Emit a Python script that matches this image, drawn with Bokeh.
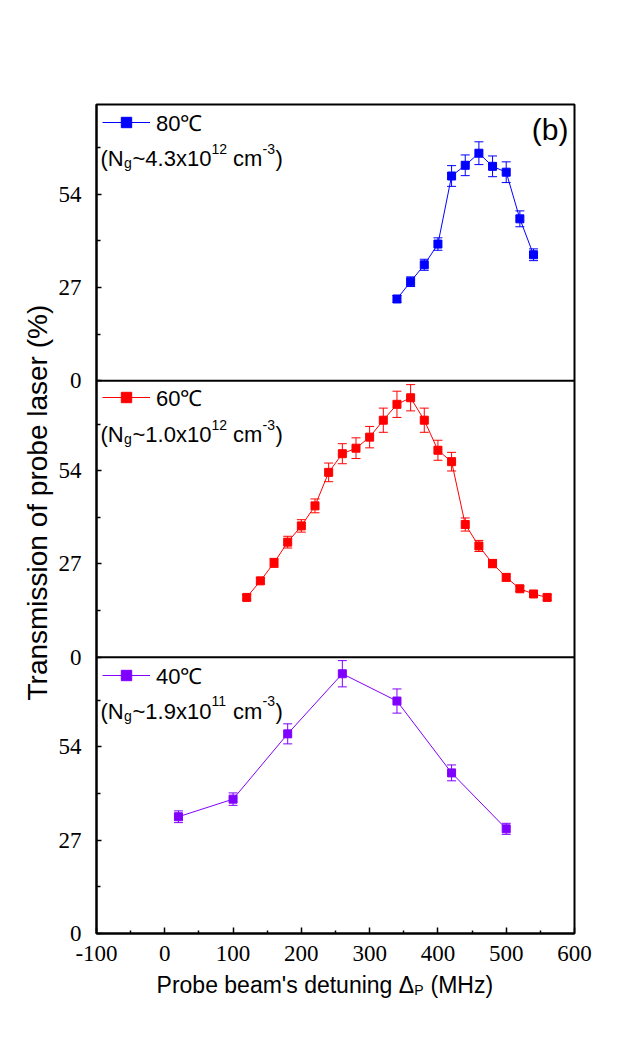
import math
from bokeh.plotting import figure
from bokeh.layouts import column
from bokeh.models import (Range1d, FixedTicker, Whisker, TeeHead, ColumnDataSource,
                          Span, Label, Legend, LegendItem, Title)
from bokeh.embed import file_html
from bokeh.resources import INLINE

# ---------------- data ----------------
det_80 = [340, 360, 380, 400, 420, 440, 460, 480, 500, 520, 540]
T_80 = [23.7, 28.7, 33.6, 39.6, 59.3, 62.4, 65.9, 62.1, 60.4, 46.9, 36.5]
err_80 = [1.0, 1.4, 1.6, 1.8, 3.0, 3.0, 3.3, 3.0, 3.0, 2.3, 1.7]

det_60 = [120, 140, 160, 180, 200, 220, 240, 260, 280, 300, 320, 340,
          360, 380, 400, 420, 440, 460, 480, 500, 520, 540, 560]
T_60 = [17.3, 22.1, 27.3, 33.3, 38.0, 43.8, 53.5, 58.9, 60.5, 63.7, 68.6, 73.2,
        75.1, 68.6, 59.9, 56.6, 38.4, 32.2, 27.1, 23.1, 19.8, 18.3, 17.3]
err_60 = [0.8, 0.9, 1.3, 1.7, 1.8, 2.0, 2.7, 2.9, 3.0, 3.1, 3.5, 3.8,
          3.8, 3.5, 2.9, 2.7, 1.9, 1.6, 1.2, 1.0, 0.8, 0.8, 0.8]

det_40 = [20, 100, 180, 260, 340, 420, 500]
T_40 = [33.8, 38.9, 57.8, 75.2, 67.3, 46.5, 30.3]
err_40 = [1.7, 1.8, 2.9, 3.8, 3.5, 2.3, 1.6]

temp_labels = ["80℃", "60℃", "40℃"]
dens_mantissa = ["4.3", "1.0", "1.9"]
dens_exponent = ["12", "12", "11"]
colors = ["#0000FF", "#FF0000", "#8000FF"]

x_ticks = [-100, 0, 100, 200, 300, 400, 500, 600]
x_minor = [-50, 50, 150, 250, 350, 450, 550]
panel_ticks = [0, 27, 54]
panel_minor = [13.5, 40.5, 67.5]
PANEL = 80  # height of each panel in % units

W = 614
# ---------------- main figure ----------------
p = figure(width=W, height=973, x_range=Range1d(-100, 600), y_range=Range1d(0, 3 * PANEL),
           output_backend="svg", toolbar_location=None,
           min_border_left=96, min_border_right=40, min_border_top=104, min_border_bottom=40)
p.extra_y_ranges = {
    "r80": Range1d(-2 * PANEL, PANEL),
    "r60": Range1d(-PANEL, 2 * PANEL),
}
p.grid.visible = False
p.outline_line_color = "black"
p.outline_line_width = 2
p.outline_line_alpha = 1
p.background_fill_color = "white"
p.border_fill_color = "white"

# y axis: three stacked panels sharing one axis line
yt, ym, over = [], [], {}
for k in range(3):
    for t in panel_ticks:
        yt.append(k * PANEL + t)
        over[k * PANEL + t] = str(t)
    for t in panel_minor:
        ym.append(k * PANEL + t)
yax = p.yaxis[0]
yax.ticker = FixedTicker(ticks=yt, minor_ticks=ym)
yax.major_label_overrides = over
yax.major_tick_in = 5
yax.major_tick_out = 0
yax.minor_tick_in = 4
yax.minor_tick_out = 0
yax.axis_line_width = 2
yax.major_tick_line_width = 1.5
yax.minor_tick_line_width = 1.5
yax.major_label_text_font = "Liberation Serif"
yax.major_label_text_font_size = "23px"
yax.major_label_text_color = "black"
yax.major_label_standoff = 15

xax = p.xaxis[0]
xax.ticker = FixedTicker(ticks=x_ticks, minor_ticks=x_minor)
xax.major_label_overrides = {t: str(t) for t in x_ticks}
xax.major_tick_in = 6
xax.major_tick_out = 0
xax.minor_tick_in = 3
xax.minor_tick_out = 0
xax.axis_line_width = 2
xax.major_tick_line_width = 1.5
xax.minor_tick_line_width = 1.5
xax.major_label_text_font = "Liberation Serif"
xax.major_label_text_font_size = "23px"
xax.major_label_text_color = "black"
xax.major_label_standoff = 12

# y title
p.add_layout(Title(text="Transmission of probe laser (%)", align="left", offset=233,
                   text_font="Liberation Sans", text_font_size="28px",
                   text_font_style="normal", text_color="black", standoff=6), "left")

# panel separators
for loc in (PANEL, 2 * PANEL):
    p.add_layout(Span(location=loc, dimension="width", line_color="black", line_width=2))

series = [
    (det_80, T_80, err_80, "r80"),
    (det_60, T_60, err_60, "r60"),
    (det_40, T_40, err_40, "default"),
]

legend_y = [796, 521, 243]
for i, (xs, ys, es, rname) in enumerate(series):
    c = colors[i]
    src = ColumnDataSource(dict(x=xs, y=ys,
                                lower=[v - e for v, e in zip(ys, es)],
                                upper=[v + e for v, e in zip(ys, es)]))
    w = Whisker(source=src, base="x", lower="lower", upper="upper", dimension="height",
                line_color=c, line_width=1, y_range_name=rname,
                upper_head=TeeHead(size=9, line_color=c, line_width=1),
                lower_head=TeeHead(size=9, line_color=c, line_width=1))
    p.add_layout(w)
    ln = p.line("x", "y", source=src, line_color=c, line_width=1, y_range_name=rname)
    sc = p.scatter("x", "y", source=src, marker="square", size=8, fill_color=c,
                   line_color=c, y_range_name=rname)
    leg = Legend(items=[LegendItem(label=temp_labels[i], renderers=[ln, sc])],
                 location=(6, legend_y[i]), padding=0, margin=0, spacing=0,
                 glyph_width=48, glyph_height=26, label_height=26, label_standoff=6,
                 label_text_font="Liberation Sans", label_text_font_size="22px",
                 label_text_color="black", border_line_alpha=0, background_fill_alpha=0)
    p.add_layout(leg)


def add_text(fig, text, x, x_off, y, y_off, size, font="Liberation Sans", align="left", angle=0.0):
    fig.add_layout(Label(x=x, y=y, x_offset=x_off, y_offset=y_off, text=text,
                         text_font=font, text_font_size=size, text_color="black",
                         text_align=align, text_baseline="alphabetic", angle=angle))


# density annotations: (N_g~a x10^b cm^-3)
for i in range(3):
    top = (3 - i) * PANEL
    base = -54
    add_text(p, "(N", -100, 4, top, base, "22px")
    add_text(p, "g", -100, 27.5, top, base - 4.5, "14px")
    add_text(p, "~" + dens_mantissa[i] + "x10", -100, 36, top, base, "22px")
    add_text(p, dens_exponent[i], -100, 115, top, base + 10, "14px")
    add_text(p, "cm", -100, 136.6, top, base, "22px")
    add_text(p, "-3", -100, 166, top, base + 10, "14px")
    add_text(p, ")", -100, 179, top, base, "22px")

# panel tag
add_text(p, "(b)", 600, -6, 3 * PANEL, -25, "30px", align="right")

# ---------------- x title strip ----------------
s = figure(width=W, height=50, x_range=Range1d(0, W), y_range=Range1d(0, 50),
           output_backend="svg", toolbar_location=None, min_border=0,
           x_axis_type=None, y_axis_type=None)
s.grid.visible = False
s.outline_line_color = None
s.background_fill_color = "white"
s.border_fill_color = "white"
add_text(s, "Probe beam's detuning Δ", 408, 0, 39, 0, "23px", align="right")
add_text(s, "P", 408, 0, 39, -5, "14px")
add_text(s, "(MHz)", 429, 0, 39, 0, "23px")

open("out.html", "w").write(file_html(column(p, s), INLINE))
